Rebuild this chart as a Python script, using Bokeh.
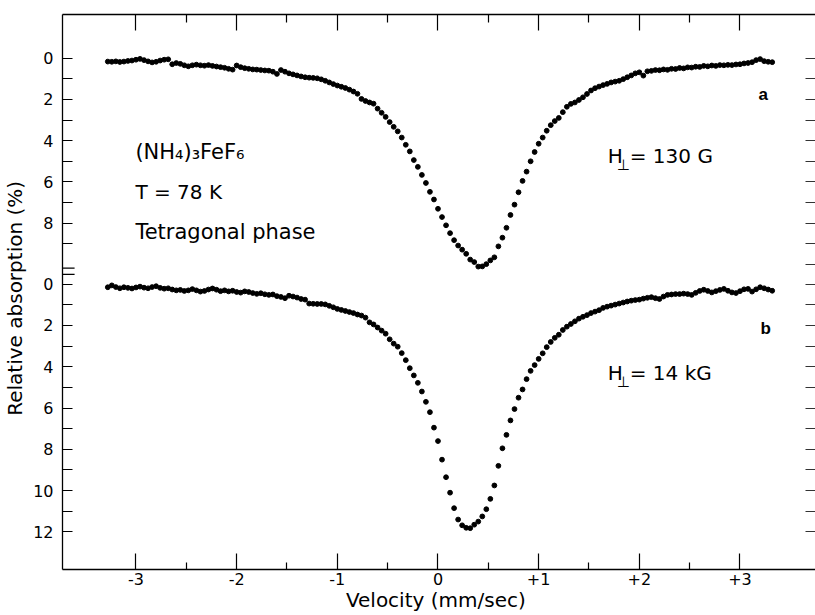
from bokeh.plotting import figure
from bokeh.models import Range1d, LinearAxis, FixedTicker, Label, Arrow
from bokeh.embed import file_html
from bokeh.resources import INLINE

# ---------------- data ----------------
VELOCITY = [
    -3.28, -3.24, -3.20, -3.16, -3.12, -3.08, -3.04, -3.00, -2.96, -2.92,
    -2.88, -2.84, -2.80, -2.76, -2.72, -2.68, -2.64, -2.60, -2.56, -2.52,
    -2.48, -2.44, -2.40, -2.36, -2.32, -2.28, -2.24, -2.20, -2.16, -2.12,
    -2.08, -2.04, -2.00, -1.96, -1.92, -1.88, -1.84, -1.80, -1.76, -1.72,
    -1.68, -1.64, -1.60, -1.56, -1.52, -1.48, -1.44, -1.40, -1.36, -1.32,
    -1.28, -1.24, -1.20, -1.16, -1.12, -1.08, -1.04, -1.00, -0.96, -0.92,
    -0.88, -0.84, -0.80, -0.76, -0.72, -0.68, -0.64, -0.60, -0.56, -0.52,
    -0.48, -0.44, -0.40, -0.36, -0.32, -0.28, -0.24, -0.20, -0.16, -0.12,
    -0.08, -0.04, 0.00, 0.04, 0.08, 0.12, 0.16, 0.20, 0.24, 0.28,
    0.32, 0.36, 0.40, 0.44, 0.48, 0.52, 0.56, 0.60, 0.64, 0.68,
    0.72, 0.76, 0.80, 0.84, 0.88, 0.92, 0.96, 1.00, 1.04, 1.08,
    1.12, 1.16, 1.20, 1.24, 1.28, 1.32, 1.36, 1.40, 1.44, 1.48,
    1.52, 1.56, 1.60, 1.64, 1.68, 1.72, 1.76, 1.80, 1.84, 1.88,
    1.92, 1.96, 2.00, 2.04, 2.08, 2.12, 2.16, 2.20, 2.24, 2.28,
    2.32, 2.36, 2.40, 2.44, 2.48, 2.52, 2.56, 2.60, 2.64, 2.68,
    2.72, 2.76, 2.80, 2.84, 2.88, 2.92, 2.96, 3.00, 3.04, 3.08,
    3.12, 3.16, 3.20, 3.24, 3.28, 3.32,
]

# spectrum a : H_perp = 130 G  (relative absorption, %)
ABS_A = [
    0.17, 0.18, 0.16, 0.19, 0.17, 0.14, 0.12, 0.08, 0.04, 0.10,
    0.16, 0.21, 0.18, 0.12, 0.08, 0.06, 0.30, 0.24, 0.28, 0.35,
    0.40, 0.35, 0.32, 0.35, 0.37, 0.34, 0.38, 0.41, 0.44, 0.47,
    0.52, 0.56, 0.36, 0.44, 0.49, 0.52, 0.55, 0.56, 0.58, 0.60,
    0.61, 0.66, 0.77, 0.58, 0.66, 0.74, 0.79, 0.84, 0.89, 0.93,
    0.95, 0.96, 0.98, 1.03, 1.10, 1.18, 1.26, 1.33, 1.39, 1.45,
    1.53, 1.62, 1.73, 1.98, 2.08, 2.15, 2.21, 2.45, 2.65, 2.85,
    3.10, 3.33, 3.55, 3.85, 4.20, 4.52, 4.94, 5.27, 5.66, 6.05,
    6.48, 6.85, 7.30, 7.70, 8.10, 8.48, 8.82, 9.08, 9.28, 9.48,
    9.76, 9.88, 10.10, 10.09, 9.98, 9.80, 9.65, 9.12, 8.70, 8.22,
    7.60, 7.10, 6.50, 5.95, 5.50, 5.00, 4.55, 4.15, 3.85, 3.52,
    3.25, 3.05, 2.90, 2.62, 2.36, 2.22, 2.15, 2.03, 1.90, 1.74,
    1.57, 1.46, 1.38, 1.31, 1.25, 1.18, 1.14, 1.10, 1.02, 0.93,
    0.84, 0.74, 0.69, 0.85, 0.64, 0.62, 0.58, 0.59, 0.55, 0.57,
    0.52, 0.53, 0.48, 0.50, 0.45, 0.46, 0.42, 0.43, 0.38, 0.40,
    0.36, 0.38, 0.34, 0.35, 0.33, 0.34, 0.31, 0.30, 0.26, 0.24,
    0.20, 0.10, 0.05, 0.15, 0.18, 0.20,
]

# spectrum b : H_perp = 14 kG  (relative absorption, %)
ABS_B = [
    0.15, 0.06, 0.14, 0.20, 0.15, 0.18, 0.21, 0.16, 0.12, 0.17,
    0.20, 0.14, 0.10, 0.18, 0.22, 0.20, 0.26, 0.30, 0.28, 0.33,
    0.30, 0.24, 0.30, 0.36, 0.33, 0.26, 0.21, 0.27, 0.34, 0.30,
    0.35, 0.32, 0.38, 0.41, 0.35, 0.38, 0.43, 0.47, 0.44, 0.49,
    0.52, 0.50, 0.58, 0.62, 0.68, 0.56, 0.60, 0.65, 0.72, 0.75,
    0.94, 0.95, 0.96, 0.96, 0.98, 1.05, 1.12, 1.20, 1.25, 1.30,
    1.35, 1.40, 1.47, 1.52, 1.62, 1.85, 1.95, 2.10, 2.25, 2.40,
    2.67, 2.88, 3.03, 3.34, 3.68, 4.07, 4.42, 4.78, 5.20, 5.70,
    6.20, 6.95, 7.60, 8.50, 9.35, 10.10, 10.85, 11.40, 11.68, 11.80,
    11.82, 11.65, 11.50, 11.25, 10.90, 10.40, 9.75, 8.80, 7.95, 7.30,
    6.60, 6.05, 5.50, 5.10, 4.60, 4.20, 3.92, 3.62, 3.35, 3.05,
    2.80, 2.60, 2.45, 2.22, 2.06, 1.93, 1.80, 1.67, 1.58, 1.50,
    1.40, 1.33, 1.26, 1.15, 1.09, 1.04, 0.99, 0.94, 0.89, 0.84,
    0.80, 0.77, 0.75, 0.70, 0.66, 0.63, 0.68, 0.72, 0.60, 0.52,
    0.50, 0.48, 0.48, 0.46, 0.48, 0.52, 0.42, 0.33, 0.27, 0.33,
    0.40, 0.34, 0.28, 0.23, 0.32, 0.40, 0.43, 0.34, 0.25, 0.23,
    0.36, 0.25, 0.15, 0.20, 0.26, 0.32,
]

X_TICKS = [-3, -2, -1, 0, 1, 2, 3]
X_TICK_LABELS = ["-3", "-2", "-1", "0", "+1", "+2", "+3"]
X_MINOR = [-2.5, -1.5, -0.5, 0.5, 1.5, 2.5]

A_TICKS = [0, 2, 4, 6, 8]
B_TICKS = [0, 2, 4, 6, 8, 10, 12]

# ---------------- layout constants ----------------
OFF = 10.95          # vertical offset of panel b in plot units
FONT = "DejaVu Sans"

p = figure(width=815, height=615, output_backend="svg", toolbar_location=None,
           x_range=Range1d(-3.73, 3.75), y_range=Range1d(24.77, -2.11),
           min_border_left=61, min_border_right=0, min_border_top=14,
           min_border_bottom=46)
p.grid.visible = False
p.outline_line_color = None
p.background_fill_color = "white"
p.border_fill_color = "white"

# data
p.scatter(VELOCITY, ABS_A, size=4.8, color="black")
p.scatter(VELOCITY, [v + OFF for v in ABS_B], size=4.8, color="black")

# ---- bottom axis
xa = p.xaxis[0]
xa.ticker = FixedTicker(ticks=X_TICKS, minor_ticks=X_MINOR)
xa.major_label_overrides = {t: l for t, l in zip(X_TICKS, X_TICK_LABELS)}
xa.major_tick_in = 16
xa.major_tick_out = 0
xa.minor_tick_in = 7
xa.minor_tick_out = 0
xa.axis_line_width = 1.3
xa.major_tick_line_width = 1.2
xa.minor_tick_line_width = 1.2
xa.major_label_standoff = 3
xa.major_label_text_font = FONT
xa.major_label_text_font_size = "16px"
xa.major_label_text_color = "black"
xa.axis_label = "Velocity  (mm/sec)"
xa.axis_label_text_font = FONT
xa.axis_label_text_font_size = "20px"
xa.axis_label_text_font_style = "normal"
xa.axis_label_text_color = "black"
xa.axis_label_standoff = 0

# ---- top axis (ticks only)
top = LinearAxis(ticker=FixedTicker(ticks=X_TICKS, minor_ticks=X_MINOR),
                 major_tick_in=16, major_tick_out=0, minor_tick_in=8, minor_tick_out=0,
                 axis_line_width=1.3, major_tick_line_width=1.2, minor_tick_line_width=1.2,
                 major_label_overrides={t: "" for t in X_TICKS},
                 major_label_text_font_size="1px", major_label_standoff=0)
p.add_layout(top, "above")

# ---- left axis
y_major = [float(t) for t in A_TICKS] + [round(OFF + t, 2) for t in B_TICKS]
y_labels = [str(t) for t in A_TICKS] + [str(t) for t in B_TICKS]
y_minor = [float(t) for t in range(1, 10, 2)] + [round(OFF + t, 2) for t in range(1, 12, 2)]
ya = p.yaxis[0]
ya.ticker = FixedTicker(ticks=y_major, minor_ticks=y_minor)
ya.major_label_overrides = {t: l for t, l in zip(y_major, y_labels)}
ya.major_tick_in = 10
ya.major_tick_out = 0
ya.minor_tick_in = 10
ya.minor_tick_out = 0
ya.axis_line_width = 1.3
ya.major_tick_line_width = 1.2
ya.minor_tick_line_width = 1.2
ya.major_label_standoff = 9
ya.major_label_text_font = FONT
ya.major_label_text_font_size = "16px"
ya.major_label_text_color = "black"
ya.axis_label = "Relative  absorption  (%)"
ya.axis_label_text_font = FONT
ya.axis_label_text_font_size = "20px"
ya.axis_label_text_font_style = "normal"
ya.axis_label_text_color = "black"
ya.axis_label_standoff = 3

# ---- right axis (ticks only, no line)
r_ticks = [float(t) for t in range(0, 11)] + [round(OFF + t, 2) for t in range(0, 13)]
right = LinearAxis(ticker=FixedTicker(ticks=r_ticks, minor_ticks=[]),
                   axis_line_color=None, major_tick_in=10, major_tick_out=0,
                   major_tick_line_color="#333333", major_tick_line_width=1.2,
                   minor_tick_line_color=None,
                   major_label_overrides={t: "" for t in r_ticks},
                   major_label_text_font_size="1px", major_label_standoff=0)
p.add_layout(right, "right")

# ---- axis break marks
for yb in (10.17, 10.48):
    p.add_layout(Arrow(end=None, x_start=-3.81, y_start=yb, x_end=-3.61, y_end=yb,
                       line_color="black", line_width=1.3))

# ---- annotations (page pixel -> data helpers)
def vx(px):
    return (px - 437) / 100.8

def vy(py):
    return (py - 57.5) / 20.65

def add_text(txt, px, py, size="20px", style="normal", font=FONT):
    p.add_layout(Label(x=vx(px), y=vy(py), text=txt, text_font=font,
                       text_font_size=size, text_font_style=style,
                       text_color="black", text_baseline="alphabetic",
                       text_align="left"))

add_text("(NH\u2084)\u2083FeF\u2086", 134, 151, size="21px")
add_text("T = 78 K", 134, 191.7)
add_text("Tetragonal  phase", 134, 231.7, size="21px")

add_text("H", 607, 155)
add_text("\u22a5", 616, 164, size="15px")
add_text("= 130 G", 629, 155)

add_text("H", 607, 372)
add_text("\u22a5", 616, 381, size="15px")
add_text("= 14 kG", 629, 372)

add_text("a", 758, 94, size="17px", style="bold", font="Liberation Sans")
add_text("b", 760, 328, size="17px", style="bold", font="Liberation Sans")

open("out.html", "w").write(file_html(p, INLINE))
